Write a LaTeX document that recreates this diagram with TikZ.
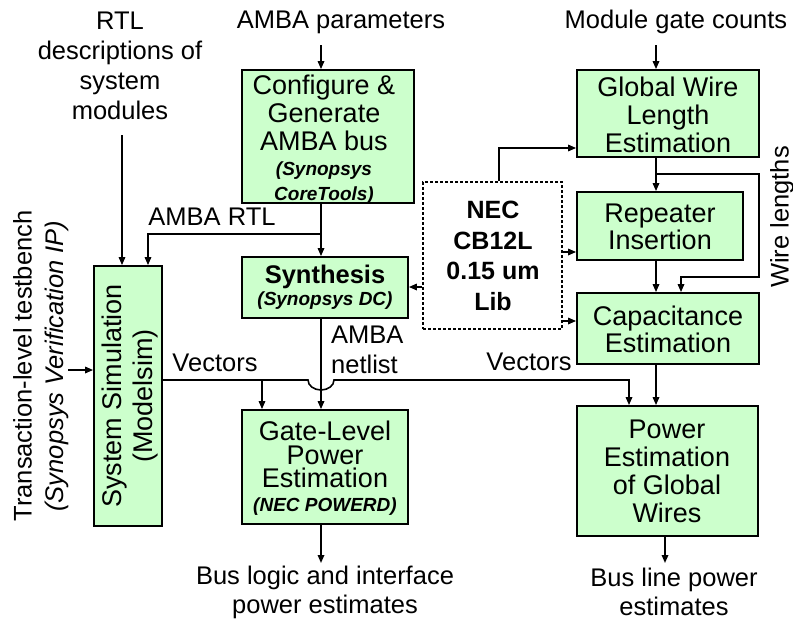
\documentclass[tikz,border=0pt]{standalone}
\usepackage{fontspec}
\setmainfont{Liberation Sans}
\usetikzlibrary{arrows.meta}
\definecolor{boxgreen}{RGB}{204,255,204}
\newcommand{\lblfont}{\fontsize{25.5}{30}\selectfont}
\newcommand{\boxfont}{\fontsize{27}{28}\selectfont}
\newcommand{\subfont}{\fontsize{19}{28}\selectfont\bfseries\itshape}
\begin{document}
\begin{tikzpicture}[x=1pt,y=-1pt,
  box/.style={draw=black, line width=1.8pt, fill=boxgreen, inner sep=0pt},
  libbox/.style={draw=black, line width=1.5pt, dash pattern=on 3pt off 2pt, fill=white, inner sep=0pt},
  bt/.style={align=center, font=\boxfont, inner sep=0pt},
  lbl/.style={align=center, font=\lblfont, inner sep=0pt},
  arr/.style={line width=1.6pt, -{Triangle[length=8pt,width=6.5pt]}}]
\useasboundingbox (0,0) rectangle (793,624);
% ---------- boxes ----------
\node[box, minimum width=172pt, minimum height=133pt] (cfg) at (328,136.5) {};
\node[box, minimum width=166pt, minimum height=61pt] (syn) at (325,287.5) {};
\node[box, minimum width=68pt, minimum height=260pt] (sim) at (128,396) {};
\node[box, minimum width=166pt, minimum height=114pt] (gate) at (325,467) {};
\node[box, minimum width=182pt, minimum height=87pt] (glob) at (668,113.5) {};
\node[box, minimum width=166pt, minimum height=68pt] (rep) at (660,226) {};
\node[box, minimum width=182pt, minimum height=71pt] (cap) at (668,328.5) {};
\node[box, minimum width=181pt, minimum height=130pt] (pow) at (667.5,471) {};
\node[libbox, minimum width=139pt, minimum height=147pt] (nec) at (492.5,255.5) {};
% ---------- box texts ----------
\node[bt] (cfgt) at (324,140) {Configure \&\\Generate\\AMBA bus\\[-3pt]{\subfont (Synopsys}\\[-3pt]{\subfont CoreTools)}};
\node[bt] (synt) at (325,287) {{\fontsize{25.5}{28}\selectfont\bfseries Synthesis}\\[-6pt]{\subfont (Synopsys DC)}};
\node[bt] (gatet) at (325,468) {Gate-Level\\[-4.5pt]Power\\[-4.5pt]Estimation\\[-4.5pt]{\subfont (NEC POWERD)}};
\node[bt] (globt) at (668,115) {Global Wire\\Length\\Estimation};
\node[bt] (rept) at (660,227) {Repeater\\[-1pt]Insertion};
\node[bt] (capt) at (668,329) {Capacitance\\[-1pt]Estimation};
\node[bt] (powt) at (667,471) {Power\\Estimation\\of Global\\Wires};
\node[bt, font=\fontsize{25}{30.5}\selectfont\bfseries] (nect) at (493,256) {NEC\\CB12L\\0.15 um\\Lib};
\node[bt, rotate=90, font=\fontsize{27}{31}\selectfont] (simt) at (130,396) {System Simulation\\(Modelsim)};
% ---------- labels ----------
\node[lbl] (rtl) at (120,66) {RTL\\descriptions of\\system\\modules};
\node[lbl] (ambapar) at (341,22) {AMBA parameters};
\node[lbl] (modgate) at (676,22) {Module gate counts};
\node[lbl] (ambartl) at (212,217) {AMBA RTL};
\node[lbl, anchor=west, align=left] (ambanet) at (331,350) {AMBA\\netlist};
\node[lbl] (vec1) at (215,363) {Vectors};
\node[lbl] (vec2) at (529,362) {Vectors};
\node[lbl] (busl) at (325,592) {Bus logic and interface\\[-1pt]power estimates};
\node[lbl] (busp) at (674,592) {Bus line power\\[-1pt]estimates};
\node[lbl, rotate=90, font=\fontsize{25.5}{32}\selectfont] (tb) at (41,366) {Transaction-level testbench\\\itshape (Synopsys Verification IP)};
\node[lbl, rotate=90] (wirel) at (782,217) {Wire lengths};
% ---------- coordinates ----------
\coordinate (xa) at (321,0);
\coordinate (xg) at (656,0);
\coordinate (ambaIn) at (321,45);
\coordinate (gcIn) at (656,45);
\coordinate (rtlIn) at (122,135);
\coordinate (rtlJ) at (321,234);
\coordinate (rtlK) at (148,234);
\coordinate (libS) at (0,287);
\coordinate (libG) at (499,148);
\coordinate (libR) at (0,252);
\coordinate (libC) at (0,321);
\coordinate (wl1) at (656,174);
\coordinate (wl2) at (759,174);
\coordinate (wl3) at (759,277);
\coordinate (wl4) at (681,277);
\coordinate (vy) at (0,380);
\coordinate (hopL) at (308,380);
\coordinate (vR) at (629,380);
\coordinate (vB) at (262,380);
\coordinate (tbOut) at (68,370);
\coordinate (busOut) at (321,563);
\coordinate (lineOut) at (665,563);
% ---------- connectors ----------
\draw[arr] (ambaIn) -- (cfg.north -| ambaIn);
\draw[arr] (gcIn) -- (glob.north -| gcIn);
\draw[arr] (rtlIn) -- (sim.north -| rtlIn);
\draw[arr] (cfg.south -| xa) -- (syn.north -| xa);
\draw[arr] (rtlJ) -- (rtlK) -- (sim.north -| rtlK);
\draw[arr] (nec.west |- libS) -- (syn.east |- libS);
\draw[arr] (nec.north -| libG) -- (libG) -- (glob.west |- libG);
\draw[arr] (nec.east |- libR) -- (rep.west |- libR);
\draw[arr] (nec.east |- libC) -- (cap.west |- libC);
\draw[arr] (glob.south -| xg) -- (rep.north -| xg);
\draw[arr] (wl1) -- (wl2) -- (wl3) -- (wl4) -- (cap.north -| wl4);
\draw[arr] (rep.south -| xg) -- (cap.north -| xg);
\draw[arr] (cap.south -| xg) -- (pow.north -| xg);
\draw[arr] (sim.east |- vy) -- (hopL) arc[start angle=180, end angle=0, x radius=13, y radius=10] -- (vR) -- (pow.north -| vR);
\draw[arr] (vB) -- (gate.north -| vB);
\draw[arr] (syn.south -| xa) -- (gate.north -| xa);
\draw[arr] (tbOut) -- (sim.west |- tbOut);
\draw[arr] (gate.south -| busOut) -- (busOut);
\draw[arr] (pow.south -| lineOut) -- (lineOut);
\end{tikzpicture}
\end{document}
